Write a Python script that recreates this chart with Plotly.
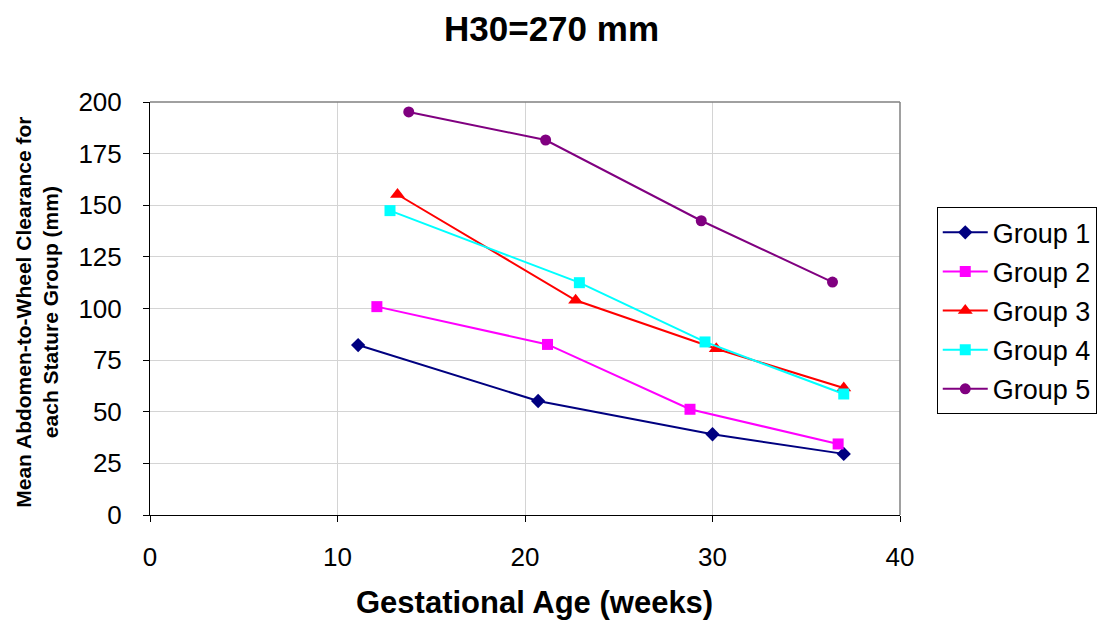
import plotly.graph_objects as go

# values
group_names = ['Group 1', 'Group 2', 'Group 3', 'Group 4', 'Group 5']
g1_x = [11.1, 20.7, 30.0, 37.0]
g1_y = [82.3, 55.2, 39.1, 29.6]
g2_x = [12.1, 21.2, 28.8, 36.7]
g2_y = [100.9, 82.6, 51.2, 34.4]
g3_x = [13.2, 22.7, 30.2, 37.0]
g3_y = [155.2, 104.0, 80.5, 61.5]
g4_x = [12.8, 22.9, 29.6, 37.0]
g4_y = [147.4, 112.5, 83.8, 58.6]
g5_x = [13.8, 21.1, 29.4, 36.4]
g5_y = [195.2, 181.6, 142.5, 112.8]

colors = ['#000080', '#FF00FF', '#FF0000', '#00FFFF', '#800080']
symbols = ['diamond', 'square', 'triangle-up', 'square', 'circle']
sizes = [11, 11, 13, 11, 11]

fig = go.Figure()
series = [(g1_x, g1_y), (g2_x, g2_y), (g3_x, g3_y), (g4_x, g4_y), (g5_x, g5_y)]
for i, (xs, ys) in enumerate(series):
    fig.add_trace(go.Scatter(
        x=xs, y=ys, mode='lines+markers', name=group_names[i],
        legendgroup=group_names[i],
        line=dict(color=colors[i], width=2),
        marker=dict(color=colors[i], symbol=symbols[i], size=sizes[i]),
    ))

font = 'Arial, Liberation Sans, sans-serif'
fig.update_layout(
    width=1106, height=613,
    paper_bgcolor='white', plot_bgcolor='white',
    margin=dict(l=142, r=214, t=94, b=106, autoexpand=False),
    font=dict(family=font, color='black', size=26),
    showlegend=True,
    legend=dict(x=1.049, y=0.745, xanchor='left', yanchor='top',
                bordercolor='black', borderwidth=1, font=dict(size=27),
                tracegroupgap=1, traceorder='grouped', itemwidth=45),
    xaxis=dict(range=[0, 40], dtick=10, showgrid=True, gridcolor='#d4d4d4',
               gridwidth=1, zeroline=False, showline=True, linecolor='black',
               linewidth=1, ticks='outside', ticklen=6, tickcolor='black',
               ticklabelstandoff=13),
    yaxis=dict(range=[0, 200], dtick=25, showgrid=True, gridcolor='#d4d4d4',
               gridwidth=1, zeroline=False, showline=True, linecolor='black',
               linewidth=1, ticks='outside', ticklen=6, tickcolor='black',
               ticklabelstandoff=16),
)

# grey frame on top and right of the plot area
fig.add_shape(type='line', xref='x domain', yref='y domain', x0=0, x1=1, y0=1, y1=1,
              line=dict(color='#808080', width=1.5))
fig.add_shape(type='line', xref='x domain', yref='y domain', x0=1, x1=1, y0=0, y1=1,
              line=dict(color='#808080', width=1.5))

# titles
fig.add_annotation(text='<b>H30=270 mm</b>', xref='paper', yref='paper', x=0.535, y=1.177,
                   xanchor='center', yanchor='middle', showarrow=False, font=dict(size=35))
fig.add_annotation(text='<b>Gestational Age (weeks)</b>', xref='paper', yref='paper',
                   x=0.512, y=-0.213, xanchor='center', yanchor='middle', showarrow=False,
                   font=dict(size=31))
fig.add_annotation(text='<b>Mean Abdomen-to-Wheel Clearance for<br>each Stature Group (mm)</b>',
                   xref='paper', yref='paper', x=-0.151, y=0.4915, textangle=-90,
                   xanchor='center', yanchor='middle', showarrow=False, font=dict(size=21))

fig.write_html("out.html")
